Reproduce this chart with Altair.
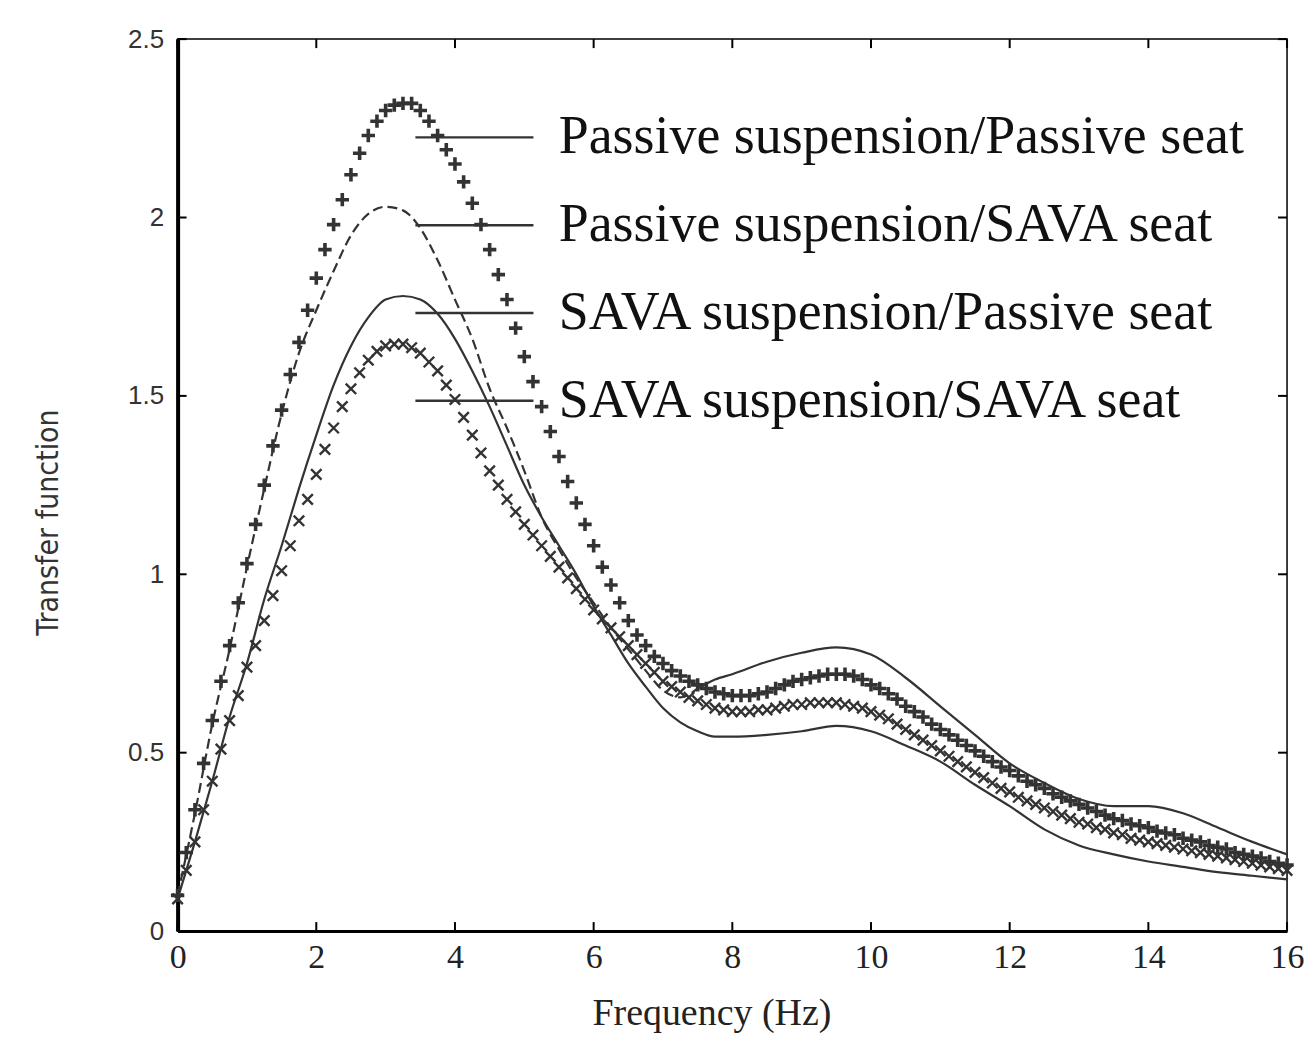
import altair as alt
import pandas as pd

series_names = [
    "Passive suspension/Passive seat",
    "Passive suspension/SAVA seat",
    "SAVA suspension/Passive seat",
    "SAVA suspension/SAVA seat",
]

# sampling grid of the two marker series (Hz)
freq_fine = [
    0, 0.125, 0.25, 0.375, 0.5, 0.625, 0.75, 0.875,
    1, 1.125, 1.25, 1.375, 1.5, 1.625, 1.75, 1.875,
    2, 2.125, 2.25, 2.375, 2.5, 2.625, 2.75, 2.875,
    3, 3.125, 3.25, 3.375, 3.5, 3.625, 3.75, 3.875,
    4, 4.125, 4.25, 4.375, 4.5, 4.625, 4.75, 4.875,
    5, 5.125, 5.25, 5.375, 5.5, 5.625, 5.75, 5.875,
    6, 6.125, 6.25, 6.375, 6.5, 6.625, 6.75, 6.875,
    7, 7.125, 7.25, 7.375, 7.5, 7.625, 7.75, 7.875,
    8, 8.125, 8.25, 8.375, 8.5, 8.625, 8.75, 8.875,
    9, 9.125, 9.25, 9.375, 9.5, 9.625, 9.75, 9.875,
    10, 10.125, 10.25, 10.375, 10.5, 10.625, 10.75, 10.875,
    11, 11.125, 11.25, 11.375, 11.5, 11.625, 11.75, 11.875,
    12, 12.125, 12.25, 12.375, 12.5, 12.625, 12.75, 12.875,
    13, 13.125, 13.25, 13.375, 13.5, 13.625, 13.75, 13.875,
    14, 14.125, 14.25, 14.375, 14.5, 14.625, 14.75, 14.875,
    15, 15.125, 15.25, 15.375, 15.5, 15.625, 15.75, 15.875,
    16,
]

# Passive suspension / Passive seat  ("+" markers)
plus_val = [
    0.10, 0.22, 0.34, 0.47, 0.59, 0.70, 0.80, 0.92,
    1.03, 1.14, 1.25, 1.36, 1.46, 1.56, 1.65, 1.74,
    1.83, 1.91, 1.98, 2.05, 2.12, 2.18, 2.23, 2.27,
    2.30, 2.315, 2.32, 2.32, 2.30, 2.27, 2.23, 2.19,
    2.15, 2.10, 2.04, 1.98, 1.91, 1.84, 1.77, 1.69,
    1.61, 1.54, 1.47, 1.40, 1.33, 1.26, 1.20, 1.14,
    1.08, 1.02, 0.97, 0.92, 0.87, 0.83, 0.80, 0.77,
    0.75, 0.73, 0.715, 0.70, 0.69, 0.68, 0.67, 0.665,
    0.66, 0.66, 0.66, 0.665, 0.67, 0.68, 0.69, 0.70,
    0.705, 0.71, 0.715, 0.72, 0.72, 0.72, 0.715, 0.705,
    0.69, 0.68, 0.665, 0.65, 0.63, 0.615, 0.60, 0.58,
    0.565, 0.55, 0.535, 0.52, 0.505, 0.49, 0.475, 0.46,
    0.45, 0.435, 0.42, 0.41, 0.40, 0.385, 0.375, 0.365,
    0.355, 0.345, 0.335, 0.325, 0.315, 0.31, 0.30, 0.295,
    0.29, 0.28, 0.275, 0.27, 0.26, 0.255, 0.25, 0.24,
    0.235, 0.23, 0.22, 0.215, 0.21, 0.205, 0.195, 0.19,
    0.185,
]

# SAVA suspension / SAVA seat  ("x" markers)
cross_val = [
    0.09, 0.17, 0.25, 0.34, 0.42, 0.51, 0.59, 0.66,
    0.74, 0.80, 0.87, 0.94, 1.01, 1.08, 1.15, 1.21,
    1.28, 1.35, 1.41, 1.47, 1.52, 1.565, 1.60, 1.625,
    1.64, 1.645, 1.645, 1.635, 1.62, 1.595, 1.57, 1.53,
    1.49, 1.44, 1.39, 1.34, 1.29, 1.25, 1.21, 1.175,
    1.14, 1.11, 1.08, 1.05, 1.02, 0.99, 0.96, 0.93,
    0.90, 0.875, 0.85, 0.825, 0.80, 0.775, 0.75, 0.725,
    0.70, 0.685, 0.67, 0.655, 0.645, 0.635, 0.625, 0.62,
    0.615, 0.615, 0.615, 0.62, 0.62, 0.625, 0.63, 0.635,
    0.635, 0.64, 0.64, 0.64, 0.64, 0.635, 0.63, 0.625,
    0.615, 0.605, 0.595, 0.58, 0.565, 0.55, 0.535, 0.52,
    0.505, 0.49, 0.475, 0.46, 0.445, 0.43, 0.415, 0.40,
    0.39, 0.375, 0.365, 0.355, 0.345, 0.335, 0.325, 0.315,
    0.305, 0.30, 0.29, 0.285, 0.275, 0.27, 0.26, 0.255,
    0.25, 0.245, 0.24, 0.235, 0.23, 0.225, 0.22, 0.215,
    0.21, 0.205, 0.20, 0.195, 0.19, 0.185, 0.18, 0.175,
    0.17,
]

# Passive suspension / SAVA seat  (dashed line)
dashed_freq = [0, 0.25, 0.5, 0.75, 1, 1.25, 1.5, 1.75, 2, 2.25, 2.5, 2.75, 3,
               3.25, 3.5, 3.75, 4, 4.25, 4.5, 4.75, 5, 5.25, 5.5, 5.75, 6,
               6.25, 6.5, 6.75, 7, 7.25, 7.5, 7.75, 8, 8.5, 9, 9.5, 10, 10.5,
               11, 11.5, 12, 12.5, 13, 13.5, 14, 14.5, 15, 15.5, 16]
dashed_val = [0.10, 0.33, 0.58, 0.79, 1.02, 1.24, 1.45, 1.62, 1.74, 1.85, 1.95,
              2.01, 2.03, 2.02, 1.97, 1.88, 1.77, 1.66, 1.52, 1.41, 1.29, 1.16,
              1.07, 0.99, 0.92, 0.85, 0.79, 0.73, 0.675, 0.655, 0.68, 0.705,
              0.72, 0.755, 0.78, 0.795, 0.775, 0.71, 0.63, 0.55, 0.47, 0.415,
              0.37, 0.35, 0.35, 0.33, 0.29, 0.25, 0.215]

# SAVA suspension / Passive seat  (solid line)
solid_freq = [0, 0.25, 0.5, 0.75, 1, 1.25, 1.5, 1.75, 2, 2.25, 2.5, 2.75, 3,
              3.25, 3.5, 3.75, 4, 4.25, 4.5, 4.75, 5, 5.25, 5.5, 5.75, 6,
              6.25, 6.5, 6.75, 7, 7.25, 7.5, 7.75, 8, 8.5, 9, 9.5, 10, 10.5,
              11, 11.5, 12, 12.5, 13, 13.5, 14, 14.5, 15, 15.5, 16]
solid_val = [0.09, 0.25, 0.42, 0.60, 0.75, 0.93, 1.08, 1.24, 1.39, 1.53, 1.64,
             1.72, 1.77, 1.78, 1.77, 1.73, 1.66, 1.57, 1.47, 1.36, 1.25, 1.16,
             1.08, 1.00, 0.91, 0.83, 0.75, 0.685, 0.625, 0.585, 0.56, 0.545,
             0.545, 0.55, 0.56, 0.575, 0.56, 0.52, 0.475, 0.41, 0.35, 0.285,
             0.24, 0.215, 0.195, 0.18, 0.165, 0.155, 0.145]

x_ticks = [0, 2, 4, 6, 8, 10, 12, 14, 16]
y_ticks = [0, 0.5, 1, 1.5, 2, 2.5]

W, H = 1112, 894
INK = "#333333"

df_plus = pd.DataFrame({"f": freq_fine, "v": plus_val, "series": series_names[0]})
df_cross = pd.DataFrame({"f": freq_fine, "v": cross_val, "series": series_names[3]})
df_dash = pd.DataFrame({"f": dashed_freq, "v": dashed_val, "series": series_names[1]})
df_solid = pd.DataFrame({"f": solid_freq, "v": solid_val, "series": series_names[2]})
df_xt = pd.DataFrame({"f": x_ticks})
df_yt = pd.DataFrame({"v": y_ticks})

x_axis = alt.Axis(
    values=x_ticks, ticks=False, grid=False, domainColor="black", domainWidth=3,
    labelFont="Liberation Serif", labelFontSize=34, labelColor="#222",
    labelPadding=10, labelFlush=False,
    title="Frequency (Hz)", titleFont="Liberation Serif", titleFontSize=38,
    titleFontWeight="normal", titleColor="#222", titleX=535, titleY=64,
)
y_axis = alt.Axis(
    values=y_ticks, ticks=False, grid=False, domainColor="black", domainWidth=4,
    labelFont="Liberation Sans", labelFontSize=26, labelColor="#333",
    labelPadding=14, labelFlush=False, labelExpr="'' + datum.value",
    title="Transfer function",
    titleFont="Liberation Sans Narrow, DejaVu Sans Condensed, Liberation Sans",
    titleFontSize=30, titleFontWeight="normal", titleColor="#333",
    titleX=-114, titleY=484,
)


def X():
    return alt.X("f:Q", scale=alt.Scale(domain=[0, 16], nice=False, zero=False), axis=x_axis)


def Y():
    return alt.Y("v:Q", scale=alt.Scale(domain=[0, 2.5], nice=False), axis=y_axis)


legend_color = alt.Color(
    "series:N",
    scale=alt.Scale(domain=series_names, range=[INK] * 4),
    legend=alt.Legend(
        title=None, orient="none", legendX=237, legendY=38, direction="vertical",
        symbolType="stroke", symbolSize=14000, symbolStrokeWidth=2.4,
        symbolStrokeColor=INK, labelFont="Liberation Serif", labelFontSize=54,
        labelColor="#111", labelOffset=24, labelLimit=2000, rowPadding=0,
        padding=0,
    ),
)

solid_line = alt.Chart(df_solid).mark_line(
    color=INK, strokeWidth=2.2, interpolate="monotone"
).encode(x=X(), y=Y())

dash_a = alt.Chart(df_dash).transform_filter("datum.f <= 7.5").mark_line(
    color=INK, strokeWidth=2.2, strokeDash=[10, 5], interpolate="monotone"
).encode(x=X(), y=Y())
dash_b = alt.Chart(df_dash).transform_filter("datum.f >= 7.5").mark_line(
    color=INK, strokeWidth=2.2, interpolate="monotone"
).encode(x=X(), y=Y())

cross_pts = alt.Chart(df_cross).mark_point(
    shape="M-1,-1L1,1M-1,1L1,-1", size=110, filled=False, strokeWidth=2.4,
    color=INK, opacity=1,
).encode(x=X(), y=Y())

plus_pts = alt.Chart(df_plus).mark_point(
    shape="M-1,0L1,0M0,-1L0,1", size=180, filled=False, strokeWidth=3.6,
    opacity=1,
).encode(x=X(), y=Y(), color=legend_color)

tick_bottom = alt.Chart(df_xt).mark_rule(color="black", strokeWidth=2).encode(
    x=X(), y=alt.value(H), y2=alt.value(H - 9))
tick_top = alt.Chart(df_xt).mark_rule(color="black", strokeWidth=2).encode(
    x=X(), y=alt.value(0), y2=alt.value(9))
tick_left = alt.Chart(df_yt).mark_rule(color="black", strokeWidth=2).encode(
    y=Y(), x=alt.value(0), x2=alt.value(9))
tick_right = alt.Chart(df_yt).mark_rule(color="black", strokeWidth=2).encode(
    y=Y(), x=alt.value(W), x2=alt.value(W - 9))

chart = alt.layer(
    solid_line, dash_a, dash_b, cross_pts, plus_pts,
    tick_bottom, tick_top, tick_left, tick_right,
).properties(
    width=W, height=H,
    autosize=alt.AutoSizeParams(type="none"),
    padding={"left": 170, "top": 30, "right": 20, "bottom": 110},
    background="white",
).configure_view(
    stroke="black", strokeWidth=1.5
)

chart.save("out.html", embed_options={"renderer": "svg", "actions": False})
